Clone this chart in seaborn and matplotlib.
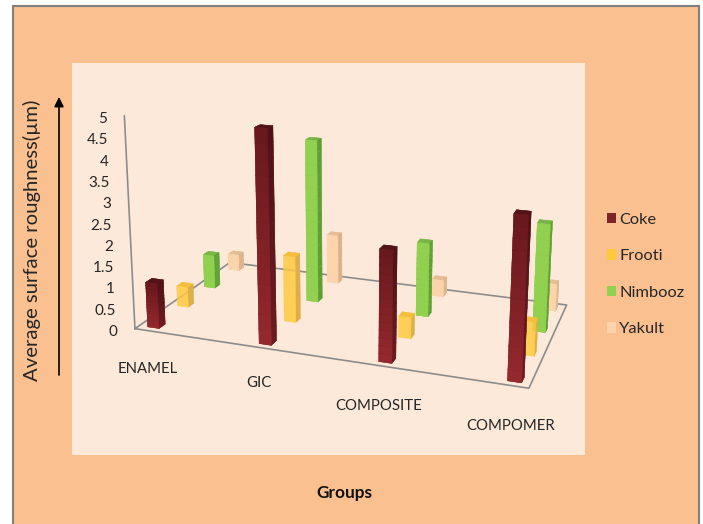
import numpy as np
import matplotlib
matplotlib.use("Agg")
import matplotlib.pyplot as plt
import seaborn as sns
from matplotlib.patches import FancyArrowPatch, Patch, Rectangle

groups = ["ENAMEL", "GIC", "COMPOSITE", "COMPOMER"]
drinks = ["Coke", "Frooti", "Nimbooz", "Yakult"]
coke = [1.09, 4.94, 2.55, 3.62]
frooti = [0.51, 1.62, 0.51, 0.79]
nimbooz = [0.86, 4.08, 1.83, 2.61]
yakult = [0.43, 1.28, 0.43, 0.69]
roughness_ticks = [0, 0.5, 1, 1.5, 2, 2.5, 3, 3.5, 4, 4.5, 5]

series_values = [coke, frooti, nimbooz, yakult]

# Per series: front colour at the top and bottom of a bar, side colour pair, top face.
front_top = ["#69191E", "#FFC62E", "#92D050", "#FCD5AC"]
front_bottom = ["#93282D", "#FFC93A", "#92D050", "#FCD5AC"]
side_top = ["#4F1216", "#DDAF4A", "#5F9E36", "#D9AF87"]
side_bottom = ["#6B1B1F", "#DDAF4A", "#5F9E36", "#D9AF87"]
top_face = ["#521417", "#F5BE3A", "#78B447", "#E4BD97"]
legend_colors = ["#7E2429", "#FFC93C", "#92D050", "#FCD5AC"]
front_alpha = [1.0, 0.82, 1.0, 1.0]

W, H = 703, 524
FLOOR_X, FLOOR_Y, FLOOR_Z = 3.25, 3.5, 5.0
BAR_DX, BAR_DY = 0.105, 0.2
SEGMENTS = 14

sns.set_theme(style="white")
plt.rcParams["font.family"] = ["Lato", "DejaVu Sans"]

fig = plt.figure(figsize=(W / 100, H / 100), dpi=100, facecolor="white")

# Panel backgrounds, captions and the axis arrow live on a pixel-scaled layer.
bg = fig.add_axes([0, 0, 1, 1], zorder=-1)
bg.set_xlim(0, W)
bg.set_ylim(H, 0)
bg.axis("off")
bg.add_patch(Rectangle((13, 6), 686, 530, fc="#FAC090", ec="#808080", lw=1.5))
bg.add_patch(Rectangle((72, 63), 513, 392, fc="#FDE9D9", ec="none"))

for t in roughness_ticks:
    bg.text(117 - 2 * t, 332 - 42.6 * t, f"{t:g}", ha="right", va="center",
            fontsize=11, color="#262626")
for name, (px, py) in zip(groups, [(148, 369), (259, 383), (379, 406), (511, 426)]):
    bg.text(px, py, name, ha="center", va="center", fontsize=10.7, color="#262626")
bg.text(344, 493, "Groups", ha="center", va="center", fontsize=12.4,
        fontweight="bold", color="#111111")
bg.text(32, 240, "Average surface roughness(µm)", rotation=90, ha="center",
        va="center", fontsize=14.6, color="#262626")
bg.add_patch(FancyArrowPatch((59, 375), (59, 97), arrowstyle="-|>", mutation_scale=14,
                             color="black", lw=1.2, shrinkA=0, shrinkB=0))

# Perspective 3D axes; the square box extends past the figure so nothing is clipped.
ax = fig.add_axes([-1.1806, -1.629, 3.4139, 4.5802], projection="3d")
ZOOM = 0.2016
ax.set_proj_type("persp", focal_length=ZOOM * np.exp(-0.9087))
ax.view_init(13.2928, -72.3648, -0.701)
ax.set_box_aspect((1, np.exp(-0.6524), np.exp(-0.6071)), zoom=ZOOM)
ax.set_xlim(0.099 * FLOOR_X, 1.099 * FLOOR_X)
ax.set_ylim(0.0954 * FLOOR_Y, 1.0954 * FLOOR_Y)
ax.set_zlim(0.3333 * FLOOR_Z, 1.3333 * FLOOR_Z)
ax.set_axis_off()
ax.patch.set_alpha(0)
ax.computed_zorder = False

# Floor outline and the vertical value axis.
ax.plot([0, FLOOR_X, FLOOR_X, 0, 0], [0, 0, FLOOR_Y, FLOOR_Y, 0], [0] * 5,
        color="#8C8C8C", lw=1.2, zorder=1)
ax.plot([0, 0], [0, 0], [0, FLOOR_Z], color="#8C8C8C", lw=1.2, zorder=1)

CLEAR = (0, 0, 0, 0)
order = 2
for j in range(len(drinks) - 1, -1, -1):
    fronts = sns.blend_palette([front_bottom[j], front_top[j]], SEGMENTS)
    sides = sns.blend_palette([side_bottom[j], side_top[j]], SEGMENTS)
    top_rgba = matplotlib.colors.to_rgba(top_face[j])
    for i, value in enumerate(series_values[j]):
        x0 = 0.13 + i - BAR_DX / 2
        y0 = 0.14 + j
        # Translucent series only show the faces turned towards the viewer.
        n = SEGMENTS if front_alpha[j] == 1.0 else 1
        for s in range(n):
            dz = value / n
            f = (*fronts[s], front_alpha[j])
            sd = (*sides[s], 1.0)
            if front_alpha[j] == 1.0:
                faces = [f, top_rgba, f, f, f, sd]
            else:
                faces = [CLEAR, top_rgba, f, CLEAR, CLEAR, sd]
            ax.bar3d(x0, y0, s * dz, BAR_DX, BAR_DY, dz, color=faces, edgecolor=faces,
                     linewidth=0.3, shade=False, zorder=order)
            order += 1

handles = [Patch(fc=c, ec="none") for c in legend_colors]
fig.legend(handles=handles, labels=drinks, loc="upper left",
           bbox_to_anchor=(607 / W, 1 - 212.5 / H), frameon=False, fontsize=11.8,
           handlelength=0.55, handleheight=0.65, handletextpad=0.2, labelspacing=1.36,
           borderpad=0, borderaxespad=0)

fig.savefig("out.png", dpi=100)
